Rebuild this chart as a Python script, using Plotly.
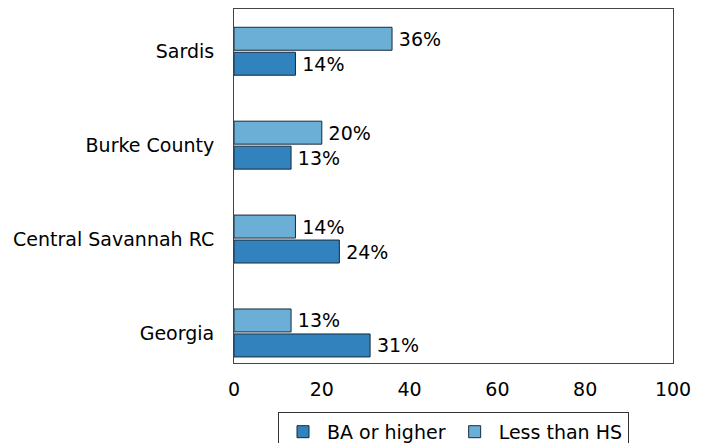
import plotly.graph_objects as go

categories = ["Georgia", "Central Savannah RC", "Burke County", "Sardis"]
ba_or_higher = [31, 24, 13, 14]
less_than_hs = [13, 14, 20, 36]
x_ticks = [0, 20, 40, 60, 80, 100]

FONT = "DejaVu Sans"
ypos = list(range(len(categories)))

fig = go.Figure()
fig.add_trace(go.Bar(
    y=ypos, x=ba_or_higher, orientation="h", name="BA or higher",
    marker=dict(color="#3182bd", line=dict(color="#1a2a3a", width=1)),
    text=[f"\u2009{v}%" for v in ba_or_higher], textposition="outside",
    textfont=dict(size=19, color="black", family=FONT), cliponaxis=False,
))
fig.add_trace(go.Bar(
    y=ypos, x=less_than_hs, orientation="h", name="Less than HS",
    marker=dict(color="#6baed6", line=dict(color="#1a2a3a", width=1)),
    text=[f"\u2009{v}%" for v in less_than_hs], textposition="outside",
    textfont=dict(size=19, color="black", family=FONT), cliponaxis=False,
))

fig.update_layout(
    width=709, height=443,
    margin=dict(l=226, r=44, t=1, b=88, autoexpand=False),
    paper_bgcolor="white", plot_bgcolor="white",
    font=dict(family=FONT, size=19, color="black"),
    barmode="group", bargap=0.468, bargroupgap=0.08,
    showlegend=True,
    legend=dict(orientation="h", x=0.5, xanchor="center", y=-0.138, yanchor="top",
                bordercolor="#333333", borderwidth=1, font=dict(size=19),
                traceorder="normal", itemwidth=38, tracegroupgap=0),
)
fig.update_xaxes(range=[0, 100], tickvals=x_ticks, showgrid=False, zeroline=False,
                 showline=True, linecolor="#444444", linewidth=1, mirror=True,
                 ticks="", ticklabelstandoff=9)
fig.update_yaxes(range=[-0.32, 3.45], tickvals=ypos, ticktext=categories,
                 showgrid=False, zeroline=False,
                 showline=True, linecolor="#444444", linewidth=1, mirror=True,
                 ticks="", ticklabelstandoff=15)

fig.write_html("out.html")
